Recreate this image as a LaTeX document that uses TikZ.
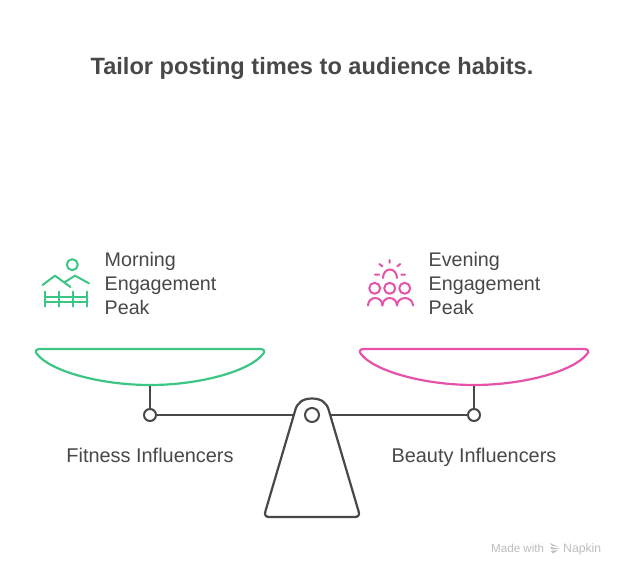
\documentclass[tikz,border=0pt]{standalone}
\usepackage{fontspec}
\setmainfont{Liberation Sans}
\definecolor{ink}{HTML}{484848}
\definecolor{grn}{HTML}{3CC583}
\definecolor{pnk}{HTML}{E552A8}
\definecolor{wm}{HTML}{BDBDBD}
\tikzset{
  x=1pt,y=-1pt,
  title/.style={font=\fontsize{23.6}{30}\selectfont\bfseries,text=ink,inner sep=0,anchor=base},
  lbl/.style={font=\fontsize{19.9}{24}\selectfont,text=ink,inner sep=0,anchor=base},
  multi/.style={font=\fontsize{19.7}{24}\selectfont,text=ink,inner sep=0,align=left,anchor=west},
  pin/.style={circle,draw=ink,line width=2pt,fill=white,minimum size=12pt,inner sep=0},
  bar/.style={draw=ink,line width=2.2pt},
  grnline/.style={draw=grn,line width=2.2pt,line cap=round,line join=round},
  pnkline/.style={draw=pnk,line width=2.2pt,line cap=round,line join=round},
  icong/.style={draw=grn,line width=2pt,line cap=round,line join=round},
  iconp/.style={draw=pnk,line width=2pt,line cap=round,line join=round},
}
\begin{document}
\begin{tikzpicture}
\useasboundingbox (0,0) rectangle (624,576);
\fill[white] (0,0) rectangle (624,576);
\node[title] (t) at (312,74.5) {Tailor posting times to audience habits.};
% pans
\path[grnline] (40,349) -- (260,349) .. controls (265,349) and (265,352) .. (263,354)
  .. controls (250,371) and (200,385) .. (150,385) .. controls (100,385) and (50,371) .. (37,354)
  .. controls (35,352) and (35,349) .. (40,349) -- cycle;
\path[pnkline] (364,349) -- (584,349) .. controls (589,349) and (589,352) .. (587,354)
  .. controls (574,371) and (524,385) .. (474,385) .. controls (424,385) and (374,371) .. (361,354)
  .. controls (359,352) and (359,349) .. (364,349) -- cycle;
\coordinate (panL) at (150,386);
\coordinate (panR) at (474,386);
% pins and fulcrum
\node[pin] (pinL) at (150,415) {};
\node[pin] (pinR) at (474,415) {};
\coordinate (fulL) at (296,415);
\coordinate (fulR) at (328,415);
\draw[bar] (panL) -- (pinL);
\draw[bar] (panR) -- (pinR);
\draw[bar] (pinL) -- (fulL);
\draw[bar] (pinR) -- (fulR);
\path[draw=ink,line width=2.2pt,line join=round,fill=white]
  (295,411) .. controls (297,402.5) and (303,398.5) .. (312,398.5)
  .. controls (321,398.5) and (327,402.5) .. (329,411)
  -- (358.5,511) .. controls (360,515) and (358,517) .. (355,517)
  -- (269,517) .. controls (266,517) and (264,515) .. (265.5,511) -- cycle;
\node[pin,minimum size=14pt] (hub) at (312,415) {};
% labels
\node[lbl] (fi) at (150,462.5) {Fitness Influencers};
\node[lbl] (bi) at (474,462.5) {Beauty Influencers};
\node[multi] (me) at (104.5,283) {Morning\\Engagement\\Peak};
\node[multi] (ee) at (428.5,283) {Evening\\Engagement\\Peak};
% morning icon
\draw[icong] (72.3,264.7) circle (5.5);
\draw[icong] (42.5,285) -- (55,275.7) -- (70.5,287);
\draw[icong] (64.5,282.3) -- (75,275.7) -- (89,283.3);
\draw[icong] (45,291.5) -- (45,306.5) (59,291.5) -- (59,306.5) (73.3,291.5) -- (73.3,306.5) (87.3,291.5) -- (87.3,306.5);
\draw[icong] (45,296.7) -- (87.3,296.7) (45,302.3) -- (87.3,302.3);
% evening icon
\draw[iconp] (383,278) arc (180:360:7 and 8.5);
\draw[iconp] (389.7,260) -- (389.7,262.7) (379.3,264) -- (382.3,266.3) (400.3,264) -- (397.3,266.3) (375,274.7) -- (379,274.7) (401.3,274.7) -- (405,274.7);
\foreach \c in {374.7,389.7,404.7}{
  \draw[iconp] (\c,288.3) circle (5.5);
}
\draw[iconp] (368,305.5) arc (180:360:7.2 and 7.5);
\draw[iconp] (382.4,305.5) arc (180:360:7.3 and 7.5);
\draw[iconp] (397,305.5) arc (180:360:8 and 7.5);
% watermark
\node[inner sep=0,anchor=base west,text=wm,font=\fontsize{11.6}{12}\selectfont] (wm1) at (491,552) {Made with};
\node[inner sep=0,anchor=base west,text=wm,font=\fontsize{12.2}{12}\selectfont] (wm2) at (563,552) {Napkin};
\fill[wm] (549.5,543) -- (559,547) -- (552,545.5) -- cycle (550,547) -- (560,548.5) -- (552,549.5) -- cycle (551,551) -- (558,550) -- (553,553.5) -- cycle;
\end{tikzpicture}
\end{document}
